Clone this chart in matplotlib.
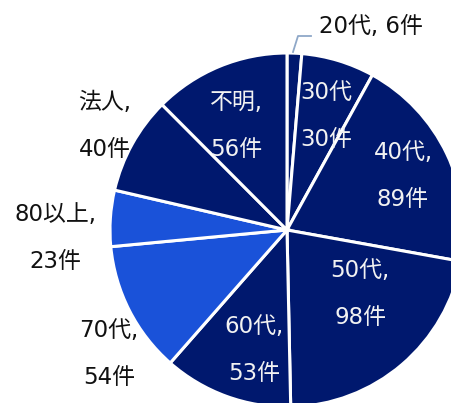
import matplotlib.pyplot as plt

plt.rcParams['font.family'] = ['DejaVu Sans', 'Noto Sans CJK JP']

# 年代別件数
labels = ['20代', '30代', '40代', '50代', '60代', '70代', '80以上', '法人', '不明']
counts = [6, 30, 89, 98, 53, 54, 23, 40, 56]

navy = '#00186e'
blue = '#1a52d9'
colors = [navy, navy, navy, navy, navy, blue, blue, navy, navy]

W, H = 451, 403
fig = plt.figure(figsize=(W / 100, H / 100), dpi=100)
ax = fig.add_axes([0, 0, 1, 1])

cx, cy, r = 287, H - 230, 177
ax.pie(counts, colors=colors, startangle=90, counterclock=False,
       center=(cx, cy), radius=r,
       wedgeprops=dict(edgecolor='white', linewidth=2.2))
ax.set_xlim(0, W)
ax.set_ylim(0, H)
ax.axis('off')

# ラベル位置 (ピクセル座標, 上から)、文字色
pos = [
    (371, 27, 'k'),
    (326, 92, 'w'),
    (403, 152, 'w'),
    (360, 270, 'w'),
    (254, 327, 'w'),
    (109, 330, 'k'),
    (55, 215, 'k'),
    (105, 102, 'k'),
    (236, 102, 'w'),
]

fs = 16.5
for lab, n, (px, py, c) in zip(labels, counts, pos):
    col = '#f2f2f2' if c == 'w' else '#111111'
    if lab == '20代':
        ax.text(px, H - py, f'{lab}, {n}件', color=col, fontsize=fs,
                ha='center', va='center')
        continue
    first = f'{lab}' if lab == '30代' else f'{lab},'
    ax.text(px, H - py, first, color=col, fontsize=fs, ha='center', va='center')
    ax.text(px, H - py - 47, f'{n}件', color=col, fontsize=fs,
            ha='center', va='center')

# 20代の引き出し線
ax.plot([293, 298, 311], [H - 52, H - 36, H - 36], color='#8fa8c8', lw=1.3)

fig.savefig('out.png', dpi=100)
